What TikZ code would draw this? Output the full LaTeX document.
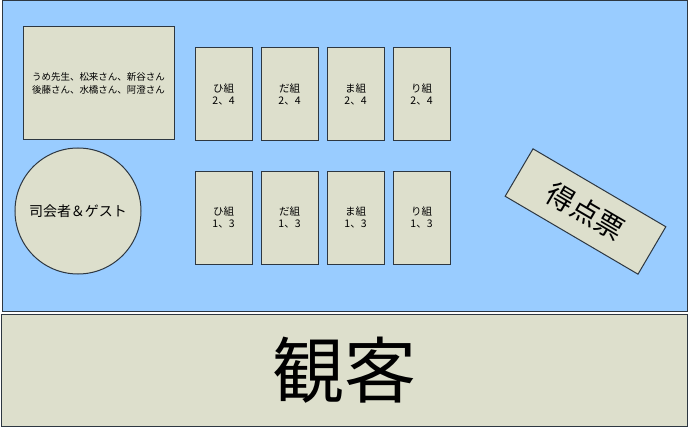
\documentclass[tikz,border=0pt]{standalone}
\usepackage{fontspec}
\setmainfont{Noto Sans CJK JP}
\definecolor{stage}{RGB}{153,204,255}
\definecolor{boxfill}{RGB}{221,223,204}
\definecolor{edge}{RGB}{45,55,65}
\begin{document}
\begin{tikzpicture}[x=1pt,y=-1pt,
  box/.style={draw=edge,line width=1pt,fill=boxfill,inner sep=0pt,align=center},
  seat/.style={box,minimum width=57pt,minimum height=93pt,font=\fontsize{10.5}{12.5}\selectfont}]
\useasboundingbox (0,0) rectangle (689,428);
\fill[white] (0,0) rectangle (689,428);
\node[draw=edge,line width=1pt,fill=stage,minimum width=685pt,minimum height=310pt,inner sep=0pt] (stage) at (344.5,156) {};
\node[box,minimum width=686pt,minimum height=112pt,font=\fontsize{72}{80}\selectfont] (aud) at (344,370) {観客};
\node[box,minimum width=151pt,minimum height=113pt,font=\fontsize{9.5}{13}\selectfont] (guests) at (98.5,83.5) {うめ先生、松来さん、新谷さん\\後藤さん、水橋さん、阿澄さん};
\node[box,circle,minimum size=126pt,font=\fontsize{14}{16}\selectfont] (host) at (78,211) {司会者＆ゲスト};
\node[seat] (h24) at (223.5,94.5) {ひ組\\2、4};
\node[seat] (d24) at (289.5,94.5) {だ組\\2、4};
\node[seat] (m24) at (355.5,94.5) {ま組\\2、4};
\node[seat] (r24) at (421.5,94.5) {り組\\2、4};
\node[seat] (h13) at (223.5,217.5) {ひ組\\1、3};
\node[seat] (d13) at (289.5,217.5) {だ組\\1、3};
\node[seat] (m13) at (355.5,217.5) {ま組\\1、3};
\node[seat] (r13) at (421.5,217.5) {り組\\1、3};
\node[box,minimum width=154pt,minimum height=55pt,rotate=-30.4,font=\fontsize{28}{32}\selectfont] (score) at (585.5,211.5) {得点票};
\end{tikzpicture}
\end{document}
